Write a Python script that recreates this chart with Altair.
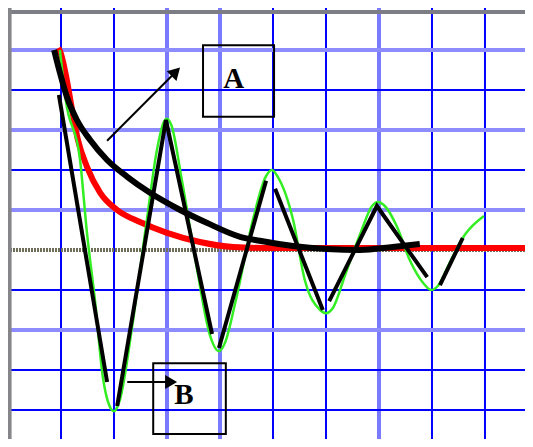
import altair as alt
import pandas as pd

# ---- data (grid units: x 1 unit = one vertical grid cell, y 1 unit = one horizontal cell)
grid_x_crisp = [1, 2, 5, 6, 8, 9]
grid_x_soft = [3, 4, 7]
grid_y_crisp = [4, 2, -1, -3, -4]
grid_y_soft = [5, 3, 1, -2]

red_x = [0.95, 1.0, 1.11, 1.21, 1.32, 1.49, 1.74, 2.06, 2.49, 3.0, 3.62, 4.25, 4.89, 9.91]
red_y = [5.05, 4.9, 4.25, 3.5, 2.75, 2.08, 1.43, 1.0, 0.7, 0.43, 0.2, 0.075, 0.05, 0.05]

green_x = [0.98, 1.02, 1.09, 1.36, 1.49, 1.64, 1.79, 1.91, 2.0, 2.11, 2.36, 2.62, 2.81, 2.94,
           3.0, 3.08, 3.28, 3.57, 3.81, 3.98, 4.09, 4.30, 4.62, 4.87, 4.98, 5.09, 5.38, 5.6,
           5.89, 6.0, 6.13, 6.36, 6.64, 6.87, 6.98, 7.11, 7.34, 7.58, 7.85, 7.98, 8.11, 8.34,
           8.62, 8.98]
green_y = [5.0, 4.5, 3.75, 2.25, 0.43, -1.25, -3.18, -3.88, -4.03, -3.75, -1.75, 0.75, 2.5, 3.2,
           3.28, 3.13, 1.75, -0.5, -2.13, -2.53, -2.33, -1.25, 0.75, 1.85, 2.0, 1.83, 0.75, -0.75,
           -1.5, -1.58, -1.45, -0.63, 0.38, 1.1, 1.2, 1.1, 0.58, -0.25, -0.85, -1.0, -0.9, -0.3,
           0.38, 0.85]

zig_seg = [1, 1, 2, 2, 2, 3, 3, 4, 4, 5, 5, 5, 6, 6]
zig_x = [0.96, 1.87, 2.06, 2.98, 3.85, 3.98, 4.87, 5.04, 5.94, 6.06, 6.96, 7.91, 8.15, 8.58]
zig_y = [3.88, -3.3, -3.9, 3.25, -2.1, -2.45, 1.73, 1.53, -1.5, -1.28, 1.1, -0.68, -0.88, 0.3]

curve_x = [0.87, 0.98, 1.11, 1.30, 1.55, 1.87, 2.25, 2.68, 3.25, 3.75, 4.38, 4.75, 5.38, 6.02,
           6.64, 7.26, 7.77]
curve_y = [5.0, 4.43, 3.83, 3.25, 2.75, 2.25, 1.83, 1.43, 1.0, 0.68, 0.33, 0.23, 0.1, 0.025,
           0.0, 0.075, 0.15]

labels = ["A", "B"]
label_x = [4.26, 3.32]
label_y = [4.28, -3.62]
box_x1 = [3.68, 2.74]
box_x2 = [5.02, 4.11]
box_y1 = [5.12, -2.83]
box_y2 = [3.33, -4.6]

arrow_id = ["A", "A", "B", "B"]
arrow_x = [1.87, 3.14, 2.25, 3.02]
arrow_y = [2.73, 4.42, -3.3, -3.3]
head_x = [3.14, 3.04]
head_y = [4.42, -3.3]
head_angle = [45, 90]

XD = [0, 9.755]
YD = [-4.725, 6.05]
xs = alt.Scale(domain=XD, nice=False, zero=False)
ys = alt.Scale(domain=YD, nice=False, zero=False)


def X(f="x"):
    return alt.X(f"{f}:Q", scale=xs, axis=None)


def Y(f="y"):
    return alt.Y(f"{f}:Q", scale=ys, axis=None)


vx_c = alt.Chart(pd.DataFrame({"x": grid_x_crisp})).mark_rule(color="#0000ff", strokeWidth=2).encode(x=X())
vx_s = alt.Chart(pd.DataFrame({"x": grid_x_soft})).mark_rule(color="#7a7aff", strokeWidth=4).encode(x=X())
hy_c = alt.Chart(pd.DataFrame({"y": grid_y_crisp})).mark_rule(color="#0000ff", strokeWidth=2).encode(y=Y())
hy_s = alt.Chart(pd.DataFrame({"y": grid_y_soft})).mark_rule(color="#8c8cff", strokeWidth=4).encode(y=Y())
axis0 = alt.Chart(pd.DataFrame({"y": [0]})).mark_rule(color="#6e6e5a", strokeWidth=4, strokeDash=[2, 1]).encode(y=Y())
topb = alt.Chart(pd.DataFrame({"y": [5.95]})).mark_rule(color="#7d7d85", strokeWidth=4).encode(y=Y())
leftb = alt.Chart(pd.DataFrame({"x": [0.03]})).mark_rule(color="#85858a", strokeWidth=4).encode(x=X())

red = alt.Chart(pd.DataFrame({"x": red_x, "y": red_y, "o": range(len(red_x))})).mark_line(
    color="#ff0000", strokeWidth=6, interpolate="monotone").encode(x=X(), y=Y(), order="o:Q")

green = alt.Chart(pd.DataFrame({"x": green_x, "y": green_y, "o": range(len(green_x))})).mark_line(
    color="#33ee22", strokeWidth=2.5, interpolate="monotone").encode(x=X(), y=Y(), order="o:Q")

zig = alt.Chart(pd.DataFrame({"x": zig_x, "y": zig_y, "s": zig_seg, "o": range(len(zig_x))})).mark_line(
    color="black", strokeWidth=4).encode(x=X(), y=Y(), detail="s:N", order="o:Q")

curve = alt.Chart(pd.DataFrame({"x": curve_x, "y": curve_y, "o": range(len(curve_x))})).mark_line(
    color="black", strokeWidth=6, interpolate="monotone", strokeCap="butt").encode(x=X(), y=Y(), order="o:Q")

boxes = alt.Chart(pd.DataFrame({"x": box_x1, "x2": box_x2, "y": box_y1, "y2": box_y2})).mark_rect(
    fill="white", fillOpacity=0, stroke="black", strokeWidth=2).encode(
    x=X(), x2="x2:Q", y=Y(), y2="y2:Q")

texts = alt.Chart(pd.DataFrame({"x": label_x, "y": label_y, "t": labels})).mark_text(
    font="Liberation Serif", fontWeight="bold", fontSize=29, color="black",
    align="center", baseline="middle").encode(x=X(), y=Y(), text="t:N")

arrows = alt.Chart(pd.DataFrame({"x": arrow_x, "y": arrow_y, "a": arrow_id})).mark_line(
    color="black", strokeWidth=2).encode(x=X(), y=Y(), detail="a:N")

heads = alt.Chart(pd.DataFrame({"x": head_x, "y": head_y, "ang": head_angle})).mark_point(
    shape="triangle", filled=True, color="black", opacity=1, size=190).encode(
    x=X(), y=Y(), angle=alt.Angle("ang:Q", scale=None))

chart = alt.layer(
    vx_c, vx_s, hy_c, hy_s, axis0, topb, leftb,
    red, green, zig, curve, boxes, texts, arrows, heads
).properties(
    width=517, height=431, padding=0,
    autosize=alt.AutoSizeParams(type="none"),
    background="white",
).configure_view(strokeWidth=0)

chart.save("out.html", embed_options={"renderer": "svg", "actions": False})
